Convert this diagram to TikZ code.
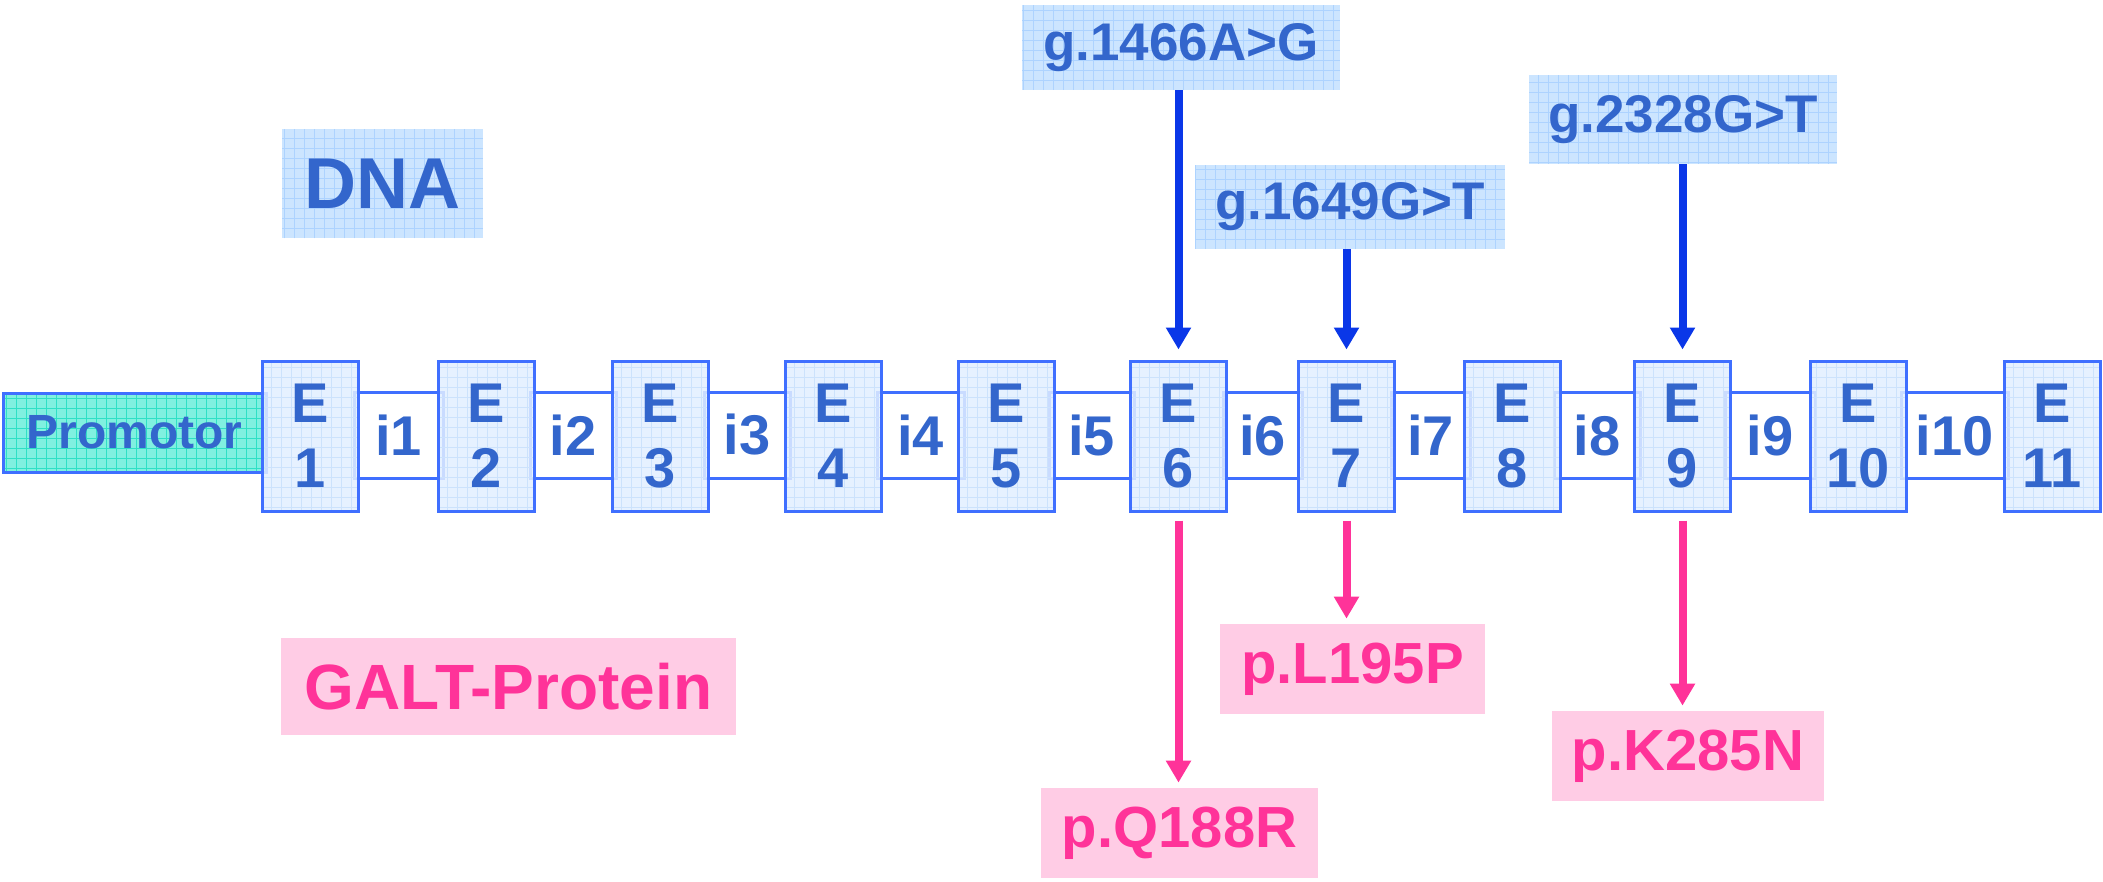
\documentclass[tikz,border=0pt]{standalone}
\usepackage{fontspec}
\setmainfont{Liberation Sans}
\usetikzlibrary{arrows.meta}
\definecolor{txtblue}{HTML}{3366CC}
\definecolor{edgeblue}{HTML}{3F6FFF}
\definecolor{exfill}{HTML}{E2EFFF}
\definecolor{exgrid}{HTML}{CCE2FC}
\definecolor{lblfill}{HTML}{CCE5FF}
\definecolor{lblgrid}{HTML}{ADD3FF}
\definecolor{profill}{HTML}{80F0E0}
\definecolor{progrid}{HTML}{2FE0C6}
\definecolor{arrblue}{HTML}{0A37E8}
\definecolor{pinktxt}{HTML}{FF3399}
\definecolor{pinkfill}{HTML}{FFCCE5}
\begin{document}
\begin{tikzpicture}[x=0.5pt,y=-0.5pt,
  gridfill/.style={path picture={\draw[#1,line width=0.4pt,step=5pt] (path picture bounding box.south west) grid (path picture bounding box.north east);}},
  exonbox/.style={draw=edgeblue, line width=1.5pt, fill=exfill, fill opacity=0.85, text opacity=1, gridfill=exgrid, minimum width=48pt, minimum height=75pt, inner sep=0pt, text=txtblue, font=\bfseries\fontsize{28}{32.5}\selectfont, align=center},
  intronbox/.style={draw=edgeblue, line width=1.5pt, fill=white, minimum height=43pt, inner sep=0pt, text=txtblue, font=\bfseries\fontsize{28}{32.5}\selectfont},
  promobox/.style={draw=edgeblue, line width=1.5pt, fill=profill, gridfill=progrid, minimum width=131.5pt, minimum height=39.5pt, inner sep=0pt, text=txtblue, font=\bfseries\fontsize{24}{28}\selectfont},
  lblbox/.style={fill=lblfill, gridfill=lblgrid, inner sep=0pt, text=txtblue, font=\bfseries\fontsize{26.5}{30}\selectfont},
  pinkbox/.style={fill=pinkfill, inner sep=0pt, text=pinktxt, font=\bfseries\fontsize{29}{33}\selectfont},
  barrow/.style={draw=arrblue, line width=4pt, -{Triangle[width=12pt,length=11pt]}},
  parrow/.style={draw=pinktxt, line width=4pt, -{Triangle[width=12pt,length=11pt]}}
]
\useasboundingbox (0,0) rectangle (2103,882);

% promoter
\node[promobox] (prom) at (134.5,432.5) {Promotor};

% introns
\foreach \i/\c/\w in {1/398.5/44.5, 2/573/43, 3/747/43, 4/920.5/43.5, 5/1091.5/42.5, 6/1262.5/39.5, 7/1430.5/39.5, 8/1597/43, 9/1770/45, 10/1954.5/53.5}
  \node[intronbox, minimum width=\w pt] (i\i) at (\c,435) {i\i};

% exons
\foreach \i/\c in {1/310, 2/486.5, 3/660, 4/833.5, 5/1006.5, 6/1178.5, 7/1346.5, 8/1512, 9/1682.5, 10/1858, 11/2052.5}
  \node[exonbox] (e\i) at (\c,436) {E\\\i};

% titles
\node[lblbox, minimum width=100.5pt, minimum height=54.5pt, font=\bfseries\fontsize{36}{40}\selectfont] (dna) at (382.5,184) {DNA};
\node[pinkbox, minimum width=227.5pt, minimum height=48.5pt, font=\bfseries\fontsize{32}{36}\selectfont] (galt) at (508.5,686.5) {GALT-Protein};

% DNA mutations
\node[lblbox, minimum width=159pt, minimum height=42.5pt] (g1) at (1181,47.5) {g.1466A>G};
\node[lblbox, minimum width=155pt, minimum height=42pt] (g2) at (1350,207) {g.1649G>T};
\node[lblbox, minimum width=154pt, minimum height=44.5pt] (g3) at (1683,119.5) {g.2328G>T};

% protein mutations
\node[pinkbox, minimum width=138.5pt, minimum height=45pt] (p1) at (1179.5,833) {p.Q188R};
\node[pinkbox, minimum width=132.5pt, minimum height=45pt] (p2) at (1352.5,669) {p.L195P};
\node[pinkbox, minimum width=136pt, minimum height=45pt] (p3) at (1688,756) {p.K285N};

% arrows
\draw[barrow, shorten >=5pt] (g1.south -| e6.center) -- (e6.north);
\draw[barrow, shorten >=5pt] (g2.south -| e7.center) -- (e7.north);
\draw[barrow, shorten >=5pt] (g3.south -| e9.center) -- (e9.north);
\draw[parrow, shorten <=4pt, shorten >=2.5pt] (e6.south) -- (e6.south |- p1.north);
\draw[parrow, shorten <=4pt, shorten >=2.5pt] (e7.south) -- (e7.south |- p2.north);
\draw[parrow, shorten <=4pt, shorten >=2.5pt] (e9.south) -- (e9.south |- p3.north);
\end{tikzpicture}
\end{document}
